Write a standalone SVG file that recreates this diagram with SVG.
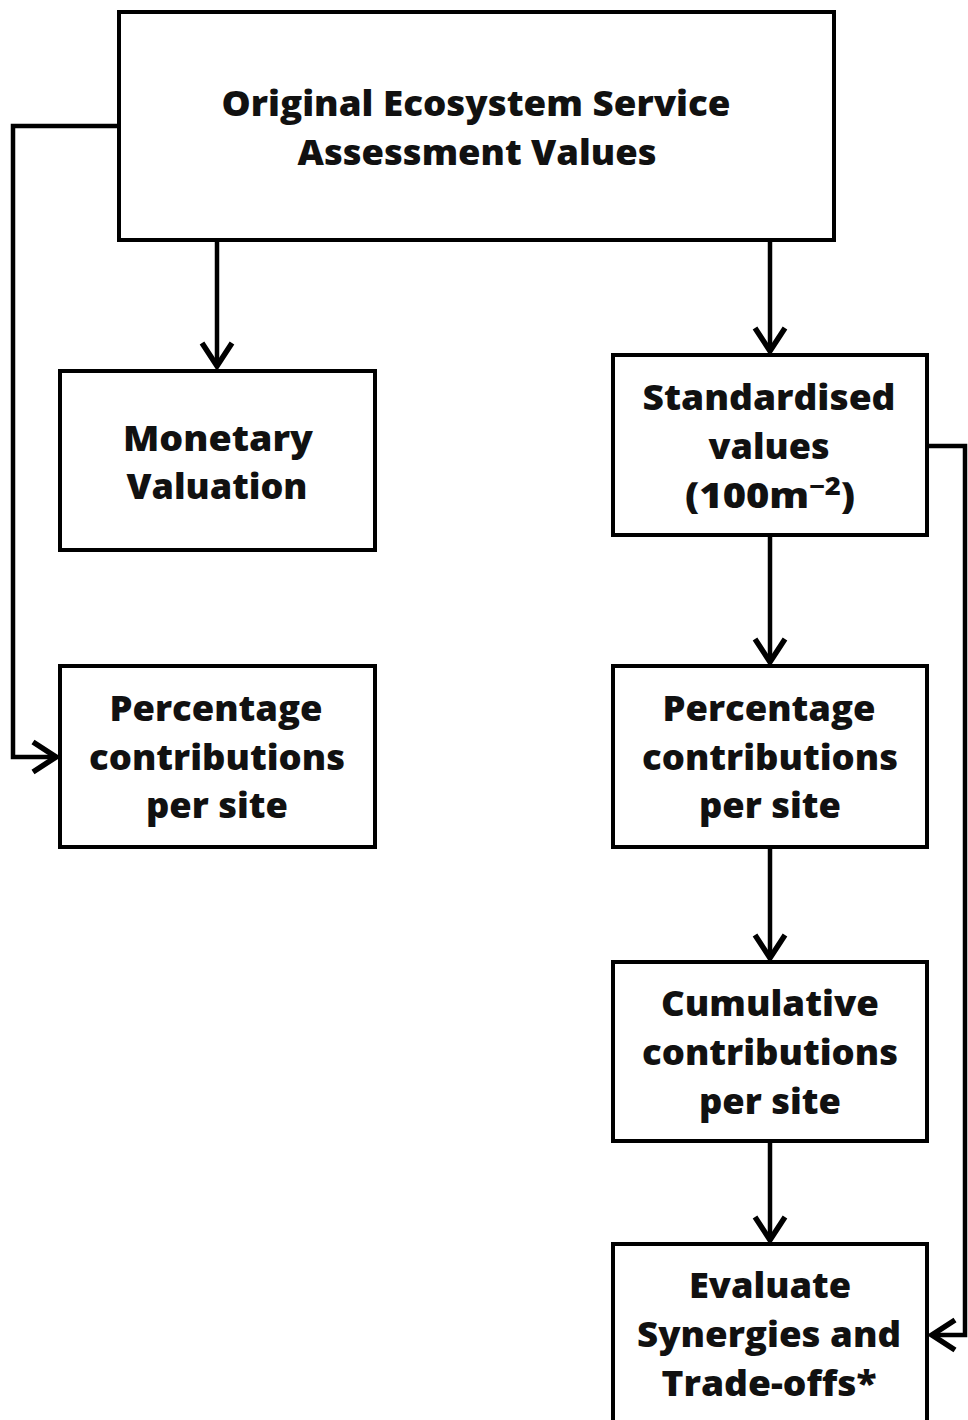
<svg xmlns="http://www.w3.org/2000/svg" width="968" height="1420" viewBox="0 0 968 1420">
  <style>
    .box { fill: #ffffff; stroke: #000000; stroke-width: 4; }
    .wire { fill: none; stroke: #000000; stroke-width: 4.5; stroke-linejoin: miter; }
    .lbl { font-family: "Open Sans", "Liberation Sans", sans-serif; font-weight: 800; font-size: 35px; fill: #111111; text-anchor: middle; }
    .sup { font-size: 24px; }
  </style>
  <defs>
    <marker id="chev" markerUnits="userSpaceOnUse" viewBox="-32 -20 36 40" refX="0" refY="0" markerWidth="36" markerHeight="40" orient="auto">
      <path d="M -23,-15 L 0,0 L -23,15" fill="none" stroke="#000000" stroke-width="5.5" stroke-linejoin="miter"/>
    </marker>
  </defs>

  <rect width="968" height="1420" fill="#ffffff"/>

  <!-- connectors -->
  <g id="connectors">
    <path class="wire" d="M 119,126 H 13 V 757 H 56" marker-end="url(#chev)"/>
    <path class="wire" d="M 217,240 V 366" marker-end="url(#chev)"/>
    <path class="wire" d="M 770,240 V 351" marker-end="url(#chev)"/>
    <path class="wire" d="M 927,446 H 965 V 1335 H 932" marker-end="url(#chev)"/>
    <path class="wire" d="M 770,535 V 662" marker-end="url(#chev)"/>
    <path class="wire" d="M 770,847 V 958" marker-end="url(#chev)"/>
    <path class="wire" d="M 770,1141 V 1240" marker-end="url(#chev)"/>
  </g>

  <!-- source values -->
  <g id="node-original">
    <rect class="box" x="119" y="12" width="715" height="228"/>
    <text class="lbl" x="476" y="116" textLength="509" lengthAdjust="spacingAndGlyphs">Original Ecosystem Service</text>
    <text class="lbl" x="477" y="165" textLength="359" lengthAdjust="spacingAndGlyphs">Assessment Values</text>
  </g>

  <g id="node-monetary">
    <rect class="box" x="60" y="371" width="315" height="179"/>
    <text class="lbl" x="218" y="451" textLength="190" lengthAdjust="spacingAndGlyphs">Monetary</text>
    <text class="lbl" x="217" y="499" textLength="181" lengthAdjust="spacingAndGlyphs">Valuation</text>
  </g>

  <g id="node-percentage-left">
    <rect class="box" x="60" y="666" width="315" height="181"/>
    <text class="lbl" x="216" y="721" textLength="213" lengthAdjust="spacingAndGlyphs">Percentage</text>
    <text class="lbl" x="217" y="770" textLength="256" lengthAdjust="spacingAndGlyphs">contributions</text>
    <text class="lbl" x="217" y="818" textLength="142" lengthAdjust="spacingAndGlyphs">per site</text>
  </g>

  <g id="node-standardised">
    <rect class="box" x="613" y="355" width="314" height="180"/>
    <text class="lbl" x="769" y="410" textLength="253" lengthAdjust="spacingAndGlyphs">Standardised</text>
    <text class="lbl" x="769" y="459" textLength="121" lengthAdjust="spacingAndGlyphs">values</text>
    <text class="lbl" x="770" y="508" textLength="170" lengthAdjust="spacingAndGlyphs">(100m<tspan class="sup" dy="-13">−2</tspan><tspan dy="13">)</tspan></text>
  </g>

  <g id="node-percentage-right">
    <rect class="box" x="613" y="666" width="314" height="181"/>
    <text class="lbl" x="769" y="721" textLength="213" lengthAdjust="spacingAndGlyphs">Percentage</text>
    <text class="lbl" x="770" y="770" textLength="256" lengthAdjust="spacingAndGlyphs">contributions</text>
    <text class="lbl" x="770" y="818" textLength="142" lengthAdjust="spacingAndGlyphs">per site</text>
  </g>

  <g id="node-cumulative">
    <rect class="box" x="613" y="962" width="314" height="179"/>
    <text class="lbl" x="770" y="1016" textLength="218" lengthAdjust="spacingAndGlyphs">Cumulative</text>
    <text class="lbl" x="770" y="1065" textLength="256" lengthAdjust="spacingAndGlyphs">contributions</text>
    <text class="lbl" x="770" y="1114" textLength="142" lengthAdjust="spacingAndGlyphs">per site</text>
  </g>

  <g id="node-evaluate">
    <rect class="box" x="613" y="1244" width="314" height="200"/>
    <text class="lbl" x="770" y="1298" textLength="162" lengthAdjust="spacingAndGlyphs">Evaluate</text>
    <text class="lbl" x="769" y="1347" textLength="264" lengthAdjust="spacingAndGlyphs">Synergies and</text>
    <text class="lbl" x="769" y="1396" textLength="215" lengthAdjust="spacingAndGlyphs">Trade-offs*</text>
  </g>
</svg>
